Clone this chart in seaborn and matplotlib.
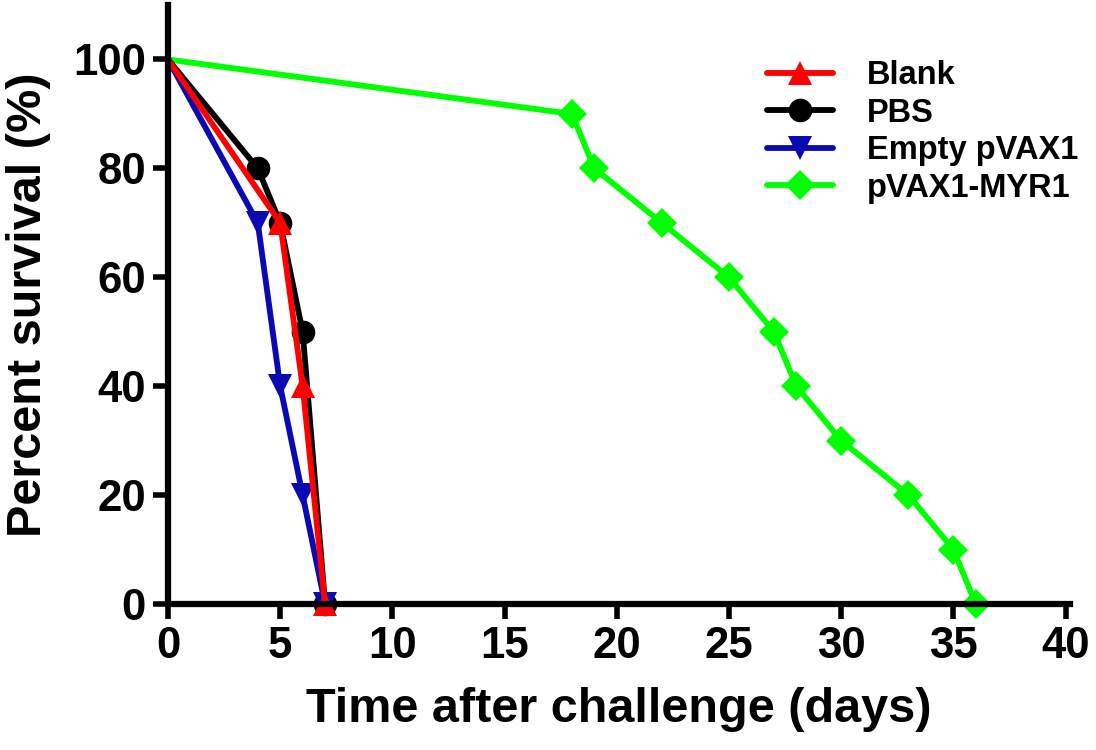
import numpy as np
import pandas as pd
import matplotlib
matplotlib.use("Agg")
import matplotlib.pyplot as plt
import seaborn as sns

groups = ["Blank", "PBS", "Empty pVAX1", "pVAX1-MYR1"]

blank_days = [0, 5, 6, 7]
blank_surv = [100, 70, 40, 0]

pbs_days = [0, 4, 5, 6, 7]
pbs_surv = [100, 80, 70, 50, 0]

empty_days = [0, 4, 5, 6, 7]
empty_surv = [100, 70, 40, 20, 0]

myr1_days = [0, 18, 19, 22, 25, 27, 28, 30, 33, 35, 36]
myr1_surv = [100, 90, 80, 70, 60, 50, 40, 30, 20, 10, 0]

x_ticks = [0, 5, 10, 15, 20, 25, 30, 35, 40]
y_ticks = [0, 20, 40, 60, 80, 100]

colors = {"Blank": "#ff0000", "PBS": "#000000",
          "Empty pVAX1": "#0a0ab4", "pVAX1-MYR1": "#00ff00"}
markers = {"Blank": "^", "PBS": "o", "Empty pVAX1": "v", "pVAX1-MYR1": "D"}

series = {
    "Blank": (blank_days, blank_surv),
    "PBS": (pbs_days, pbs_surv),
    "Empty pVAX1": (empty_days, empty_surv),
    "pVAX1-MYR1": (myr1_days, myr1_surv),
}

sns.set_style("ticks")
plt.rcParams['font.family'] = ['Liberation Sans', 'DejaVu Sans']
plt.rcParams['font.weight'] = 'bold'
for key in ['text.color', 'axes.labelcolor', 'xtick.color', 'ytick.color',
            'axes.edgecolor']:
    plt.rcParams[key] = 'black'

fig = plt.figure(figsize=(10.96, 7.5), dpi=100)
ax = fig.add_axes([0.1533, 0.1947, 0.8230, 0.7986])

# green first, red last so red sits on top like the original
draw_order = ["pVAX1-MYR1", "PBS", "Empty pVAX1", "Blank"]
for name in draw_order:
    days, surv = series[name]
    df = pd.DataFrame({"day": days, "surv": surv})
    msize = 15 if name == "pVAX1-MYR1" else 17
    # no marker at day 0, as in the original figure
    sns.lineplot(data=df, x="day", y="surv", ax=ax, color=colors[name],
                 marker=markers[name], markersize=msize, linewidth=4.2,
                 markeredgewidth=0, label=name, clip_on=False,
                 errorbar=None, sort=False,
                 markevery=list(range(1, len(days))))

ax.set_xlim(0, 40.2)
ax.set_ylim(0, 110)
ax.set_xticks(x_ticks)
ax.set_yticks(y_ticks)
ax.set_xlabel("Time after challenge (days)", fontsize=35, fontweight='bold')
ax.set_ylabel("Percent survival (%)", fontsize=35, fontweight='bold')
ax.xaxis.labelpad = 14
ax.yaxis.labelpad = 16
ax.tick_params(axis='both', labelsize=31.5, width=4, length=11, pad=5,
               direction='out', color='black', labelcolor='black')
for lab in ax.get_xticklabels() + ax.get_yticklabels():
    lab.set_fontweight('bold')

sns.despine(ax=ax)
for side in ["left", "bottom"]:
    ax.spines[side].set_linewidth(4.5)
    ax.spines[side].set_color("black")

handles, labels = ax.get_legend_handles_labels()
order = [labels.index(g) for g in groups]
leg = ax.legend([handles[i] for i in order], groups, loc="upper left",
                bbox_to_anchor=(0.65, 0.93), frameon=False,
                prop={'size': 23.5, 'weight': 'bold'}, handlelength=2.0,
                handletextpad=1.05, labelspacing=0.2, borderaxespad=0)

fig.savefig("out.png", dpi=100)
